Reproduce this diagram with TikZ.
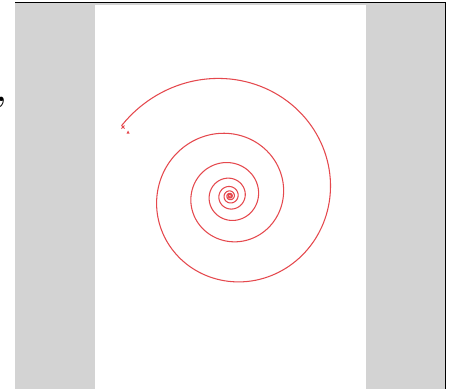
\documentclass[tikz,border=0pt]{standalone}
\usepackage{tikz}
\usetikzlibrary{calc}
\definecolor{panelgray}{HTML}{D3D3D3}
\definecolor{spiralred}{HTML}{E5484D}

\begin{document}
\begin{tikzpicture}[x=0.02cm,y=-0.02cm]
\useasboundingbox (0,0) rectangle (452,389);

% Grey backdrop, white sheet in the middle, dark frame on top and right.
\fill[panelgray] (15,3) rectangle (445,389);
\fill[white] (95,5) rectangle (366,389);
\draw[black,line width=1.1pt] (15,2.5) -- (445.5,2.5) -- (445.5,389);

% Clipped glyph at the left edge.
\node[font=\bfseries\LARGE,inner sep=0pt] (edgemark) at (1.5,102) {,};

% Logarithmic spiral winding inward to the centre.
\draw[spiralred,line width=0.6pt] plot[domain=147:-2700,samples=1100]
  ({230+100*exp(0.1*\x*pi/180)*cos(\x)},{196-100*exp(0.1*\x*pi/180)*sin(\x)});

% Start markers.
\draw[spiralred,line width=0.5pt] (121.5,125.5) -- (124.5,128.5) (121.5,128.5) -- (124.5,125.5);
\fill[spiralred] (126.5,133.5) -- (129.5,133.5) -- (128,130.5) -- cycle;
\end{tikzpicture}
\end{document}
